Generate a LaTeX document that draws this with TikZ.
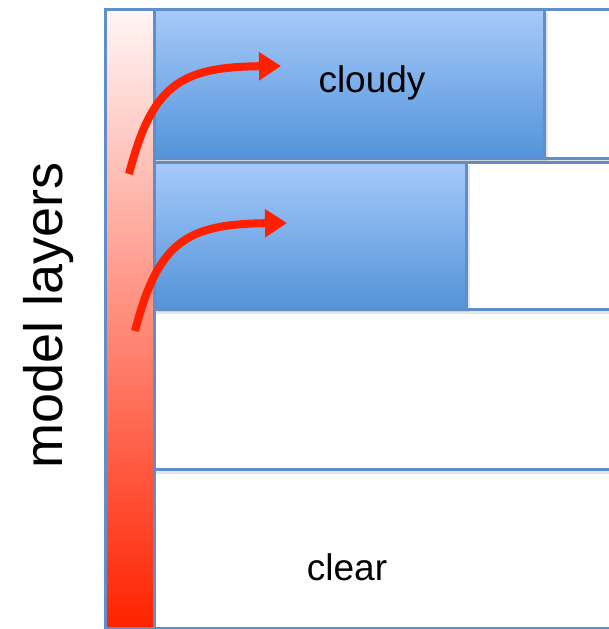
\documentclass[tikz,border=0pt]{standalone}
\usepackage{fontspec}
\setmainfont{Liberation Sans}
\usetikzlibrary{arrows.meta,shadows}
\definecolor{frameblue}{HTML}{5E8FCB}
\definecolor{bluetop}{HTML}{A6CAFA}
\definecolor{bluebot}{HTML}{5393D9}
\definecolor{redtop}{HTML}{FFF6F6}
\definecolor{redbot}{HTML}{FF2200}
\definecolor{arrowred}{HTML}{FF2000}
\tikzset{
  rowbox/.style={draw=frameblue, line width=3pt, fill=white, anchor=north west, inner sep=0pt,
    drop shadow={opacity=0.2, shadow xshift=0pt, shadow yshift=-4pt}},
  cloudbox/.style={draw=frameblue, line width=3pt, top color=bluetop, bottom color=bluebot,
    anchor=north west, inner sep=0pt,
    drop shadow={opacity=0.2, shadow xshift=3pt, shadow yshift=-3pt}},
  barbox/.style={draw=frameblue, line width=3pt, top color=redtop, bottom color=redbot,
    anchor=north west, inner sep=0pt},
  labeltext/.style={font=\fontsize{37}{44}\selectfont, anchor=base},
  sidetext/.style={font=\fontsize{54}{62}\selectfont, anchor=base, rotate=90},
  flow/.style={draw=arrowred, line width=8pt, -{Triangle[length=22pt,width=27pt]}},
}
\begin{document}
\begin{tikzpicture}[x=1pt,y=-1pt]
\useasboundingbox (0,0) rectangle (609,629);
% rows, bottom to top so shadows fall on lower rows
\node[rowbox, minimum width=470pt, minimum height=159pt] (row4) at (153,468) {};
\node[rowbox, minimum width=470pt, minimum height=160pt] (row3) at (153,308) {};
\node[rowbox, minimum width=470pt, minimum height=147pt] (row2) at (153,161) {};
\node[cloudbox, minimum width=312pt, minimum height=146pt] (blue2) at (153,161) {};
\node[rowbox, minimum width=470pt, minimum height=149pt] (row1) at (153,8) {};
\node[cloudbox, minimum width=390pt, minimum height=149pt] (blue1) at (153,8) {};
% red bar
\node[barbox, minimum width=49pt, minimum height=619pt] (bar) at (104,8) {};
% texts
\node[labeltext] (cloudy) at (372,92) {cloudy};
\node[labeltext] (clear) at (347,580) {clear};
\node[sidetext] (side) at (62,315) {model layers};
% arrows
\coordinate (a1s) at (129,174);
\coordinate (a1e) at (281,66);
\coordinate (a2s) at (135,331);
\coordinate (a2e) at (287,223);
\draw[flow] (a1s) .. controls (152,85) and (180,67) .. (a1e);
\draw[flow] (a2s) .. controls (158,242) and (186,224) .. (a2e);
\end{tikzpicture}
\end{document}
